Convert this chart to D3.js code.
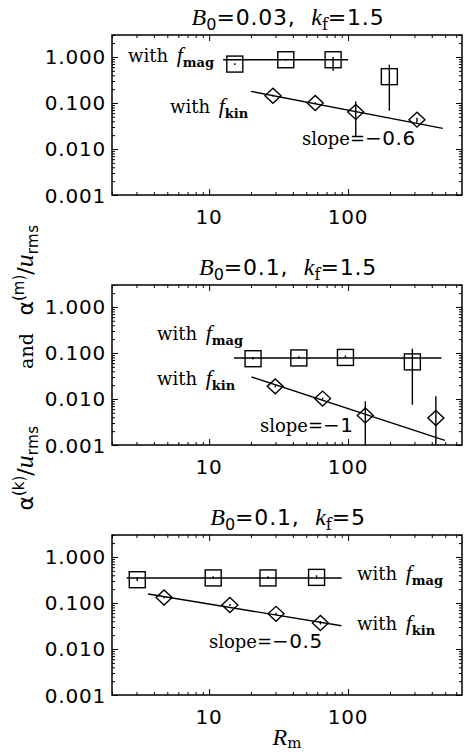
<!DOCTYPE html>
<html>
<head>
<meta charset="utf-8">
<script src="https://cdn.jsdelivr.net/npm/d3@7"></script>
<style>
  body { margin: 0; background: #fff; }
  svg text { fill: #000; white-space: pre; }
</style>
</head>
<body>
<svg id="fig" width="464" height="755"></svg>
<script>
// ---- data ----
// panel 1: B0=0.03, kf=1.5
var p1MagRm = [15.3, 35.6, 78, 198];
var p1MagAlpha = [0.70, 0.87, 0.87, 0.373];
var p1MagLo = [0.67, 0.84, 0.50, 0.068];
var p1MagHi = [0.73, 0.90, 1.0, 0.68];
var p1KinRm = [28.8, 58, 113.5, 313];
var p1KinAlpha = [0.144, 0.100, 0.064, 0.0434];
var p1KinLo = [0.138, 0.096, 0.0188, 0.037];
var p1KinHi = [0.150, 0.104, 0.108, 0.048];
var p1MagFitRm = [12.6, 100], p1MagFitAlpha = [0.87, 0.87];
var p1KinFitRm = [20, 480], p1KinFitAlpha = [0.179, 0.028];

// panel 2: B0=0.1, kf=1.5
var p2MagRm = [20.7, 44.2, 95.7, 290];
var p2MagAlpha = [0.075, 0.078, 0.080, 0.064];
var p2MagLo = [0.072, 0.075, 0.077, 0.0075];
var p2MagHi = [0.082, 0.085, 0.088, 0.124];
var p2KinRm = [29.9, 65.5, 133, 428];
var p2KinAlpha = [0.0188, 0.0102, 0.0044, 0.00386];
var p2KinLo = [0.0180, 0.0097, 0.0009, 0.0009];
var p2KinHi = [0.0200, 0.0107, 0.0089, 0.0114];
var p2MagFitRm = [15.1, 470], p2MagFitAlpha = [0.078, 0.078];
var p2KinFitRm = [20.2, 497], p2KinFitAlpha = [0.030, 0.00126];

// panel 3: B0=0.1, kf=5
var p3MagRm = [3.04, 10.7, 26.5, 59.3];
var p3MagAlpha = [0.32, 0.35, 0.35, 0.36];
var p3MagLo = [0.30, 0.33, 0.33, 0.33];
var p3MagHi = [0.36, 0.38, 0.38, 0.40];
var p3KinRm = [4.74, 14.1, 30.3, 63.2];
var p3KinAlpha = [0.132, 0.0905, 0.058, 0.0367];
var p3KinLo = [0.125, 0.086, 0.055, 0.034];
var p3KinHi = [0.140, 0.095, 0.061, 0.040];
var p3MagFitRm = [2.55, 90], p3MagFitAlpha = [0.35, 0.35];
var p3KinFitRm = [3.64, 89.6], p3KinFitAlpha = [0.157, 0.032];

var titleB0 = ["0.03", "0.1", "0.1"];
var titleKf = ["1.5", "1.5", "5"];
var slopeText = ["\u22120.6", "\u22121", "\u22120.5"];

var xMajor = [10, 100];
var yMajor = [0.001, 0.01, 0.1, 1];

// ---- layout ----
var svg = d3.select("#fig");
var left = 112, right = 462, ph = 160, top0 = 35, step = 250;
var SANS = "DejaVu Sans", SERIF = "DejaVu Serif", TIMES = "Liberation Serif";

var x = d3.scaleLog().domain([2, 660]).range([left, right]);

var xMinor = [], yMinor = [];
[1, 10, 100].forEach(function (d) {
    for (var k = 2; k <= 9; k++) if (d * k >= 2 && d * k <= 660) xMinor.push(d * k);
});
[0.001, 0.01, 0.1, 1].forEach(function (d) {
    for (var k = 2; k <= 9; k++) if (d * k <= 3) yMinor.push(+(d * k).toPrecision(2));
});

// write a line of text made of styled pieces
function rich(g, px, py, segs, anchor, rotate) {
    var t = g.append("text")
        .attr("x", px).attr("y", py)
        .attr("text-anchor", anchor || "start");
    if (rotate) t.attr("transform", "rotate(-90," + px + "," + py + ")");
    var shift = 0;
    segs.forEach(function (s) {
        var off = s.sub ? (s.sub === true ? 5 : s.sub) : (s.sup ? -9 : 0);
        var ts = t.append("tspan")
            .text(s.t)
            .attr("font-family", s.f || SANS)
            .attr("font-size", s.s || 20)
            .attr("dy", off - shift);
        if (s.dx) ts.attr("dx", s.dx);
        if (s.i) ts.attr("font-style", "italic");
        if (s.b) ts.attr("font-weight", "bold");
        if (s.ls) ts.attr("letter-spacing", s.ls);
        shift = off;
    });
    return t;
}

function withF(sub) {
    return [
        {t: "with ", f: SERIF, s: 18},
        {t: "f", f: TIMES, s: 22, i: true, dx: 3},
        {t: sub, f: SERIF, s: 13, b: true, sub: true}
    ];
}

var panels = [
    {mag: [p1MagRm, p1MagAlpha, p1MagLo, p1MagHi], kin: [p1KinRm, p1KinAlpha, p1KinLo, p1KinHi],
     magFit: [p1MagFitRm, p1MagFitAlpha], kinFit: [p1KinFitRm, p1KinFitAlpha],
     magLab: [128, 27], kinLab: [170, 78], slopeLab: [302, 110]},
    {mag: [p2MagRm, p2MagAlpha, p2MagLo, p2MagHi], kin: [p2KinRm, p2KinAlpha, p2KinLo, p2KinHi],
     magFit: [p2MagFitRm, p2MagFitAlpha], kinFit: [p2KinFitRm, p2KinFitAlpha],
     magLab: [157, 55], kinLab: [157, 100], slopeLab: [260, 147]},
    {mag: [p3MagRm, p3MagAlpha, p3MagLo, p3MagHi], kin: [p3KinRm, p3KinAlpha, p3KinLo, p3KinHi],
     magFit: [p3MagFitRm, p3MagFitAlpha], kinFit: [p3KinFitRm, p3KinFitAlpha],
     magLab: [357, 45], kinLab: [357, 95], slopeLab: [209, 113]}
];

panels.forEach(function (p, i) {
    var top = top0 + i * step, bot = top + ph;
    var y = d3.scaleLog().domain([0.001, 3]).range([bot, top]);
    var g = svg.append("g");

    g.append("clipPath").attr("id", "clip" + i)
        .append("rect").attr("x", left).attr("y", top)
        .attr("width", right - left).attr("height", ph);

    // axes, ticks pointing inward
    function ax(gen, vals, size, tx, ty) {
        var a = g.append("g").attr("transform", "translate(" + tx + "," + ty + ")")
            .call(gen.tickValues(vals).tickSize(size).tickFormat(""));
        a.select(".domain").remove();
        a.selectAll("line").attr("stroke", "#000").attr("stroke-width", 1);
        return a;
    }
    ax(d3.axisBottom(x), xMajor, -6, 0, bot);
    ax(d3.axisBottom(x), xMinor, -3, 0, bot);
    ax(d3.axisTop(x), xMajor, -6, 0, top);
    ax(d3.axisTop(x), xMinor, -3, 0, top);
    ax(d3.axisLeft(y), yMajor, -6, left, 0);
    ax(d3.axisLeft(y), yMinor, -3, left, 0);
    ax(d3.axisRight(y), yMajor, -6, right, 0);
    ax(d3.axisRight(y), yMinor, -3, right, 0);

    g.append("rect").attr("x", left).attr("y", top)
        .attr("width", right - left).attr("height", ph)
        .attr("fill", "none").attr("stroke", "#000").attr("stroke-width", 1.5);

    // tick labels
    yMajor.forEach(function (v) {
        g.append("text").attr("x", 106).attr("y", y(v) + 7.5)
            .attr("text-anchor", "end").attr("font-family", SANS).attr("font-size", 20)
            .attr("letter-spacing", 0.8)
            .text(d3.format(".3f")(v));
    });
    xMajor.forEach(function (v) {
        g.append("text").attr("x", x(v)).attr("y", bot + 29)
            .attr("text-anchor", "middle").attr("font-family", SANS).attr("font-size", 20)
            .attr("letter-spacing", 0.8)
            .text(d3.format("d")(v));
    });

    // title
    rich(g, (left + right) / 2 + 1, top - 10, [
        {t: "B", f: TIMES, s: 24, i: true},
        {t: "0", s: 16, sub: true},
        {t: "=" + titleB0[i] + ",  ", s: 22, ls: 0.8},
        {t: "k", f: TIMES, s: 24, i: true},
        {t: "f", f: SERIF, s: 16, sub: true},
        {t: "=" + titleKf[i], s: 22, ls: 0.8}
    ], "middle");

    var pg = g.append("g").attr("clip-path", "url(#clip" + i + ")");
    var line = d3.line().x(function (d) { return x(d[0]); }).y(function (d) { return y(d[1]); });

    // fitted lines
    [p.magFit, p.kinFit].forEach(function (f) {
        pg.append("path").datum(d3.zip(f[0], f[1])).attr("d", line)
            .attr("fill", "none").attr("stroke", "#000").attr("stroke-width", 1.4);
    });

    // error bars
    [p.mag, p.kin].forEach(function (s) {
        pg.selectAll(null).data(d3.range(s[0].length)).enter().append("line")
            .attr("x1", function (k) { return x(s[0][k]); })
            .attr("x2", function (k) { return x(s[0][k]); })
            .attr("y1", function (k) { return y(s[2][k]); })
            .attr("y2", function (k) { return y(s[3][k]); })
            .attr("stroke", "#000").attr("stroke-width", 1.4);
    });

    // squares
    pg.selectAll(null).data(d3.zip(p.mag[0], p.mag[1])).enter().append("rect")
        .attr("x", function (d) { return x(d[0]) - 8; })
        .attr("y", function (d) { return y(d[1]) - 8; })
        .attr("width", 16).attr("height", 16)
        .attr("fill", "none").attr("stroke", "#000").attr("stroke-width", 1.4);

    // diamonds
    pg.selectAll(null).data(d3.zip(p.kin[0], p.kin[1])).enter().append("path")
        .attr("d", function (d) {
            var cx = x(d[0]), cy = y(d[1]);
            return "M" + (cx - 8) + "," + cy + "L" + cx + "," + (cy - 7.5) +
                "L" + (cx + 8) + "," + cy + "L" + cx + "," + (cy + 7.5) + "Z";
        })
        .attr("fill", "none").attr("stroke", "#000").attr("stroke-width", 1.4);

    // annotations
    rich(g, p.magLab[0], top + p.magLab[1], withF("mag"));
    rich(g, p.kinLab[0], top + p.kinLab[1], withF("kin"));
    rich(g, p.slopeLab[0], top + p.slopeLab[1], [
        {t: "slope=", f: SERIF, s: 18},
        {t: slopeText[i], s: 20, ls: 0.5}
    ]);
});

// y label, in three pieces
function alphaOver(tag) {
    return [
        {t: "\u03b1", s: 22},
        {t: "(" + tag + ")", s: 15, sup: true},
        {t: "/", s: 22},
        {t: "u", f: TIMES, s: 26, i: true},
        {t: "rms", s: 15, sub: 5, ls: 0.5}
    ];
}
rich(svg, 33, 468, alphaOver("k"), "middle", true);
rich(svg, 33, 351, [{t: "and", f: SERIF, s: 19}], "middle", true);
rich(svg, 33, 270, alphaOver("m"), "middle", true);

// x label
rich(svg, (left + right) / 2, 745, [
    {t: "R", f: TIMES, s: 24, i: true},
    {t: "m", f: SERIF, s: 15, sub: 3}
], "middle");
</script>
</body>
</html>
